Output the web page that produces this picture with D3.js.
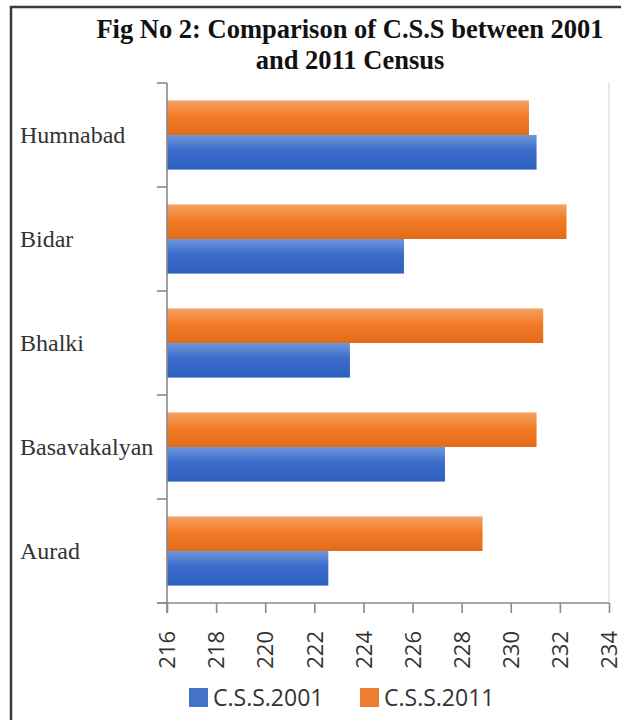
<!DOCTYPE html>
<html>
<head>
<meta charset="utf-8">
<script src="https://cdn.jsdelivr.net/npm/d3@7"></script>
<style>
  body { margin: 0; background: #fff; }
  svg { display: block; }
</style>
</head>
<body>
<svg id="chart"></svg>
<script>
// districts, top to bottom
const districts = ['Humnabad', 'Bidar', 'Bhalki', 'Basavakalyan', 'Aurad']
const series = ['C.S.S.2011', 'C.S.S.2001']
const css2001 = [231.05, 225.65, 223.45, 227.32, 222.57]
const css2011 = [230.74, 232.27, 231.32, 231.05, 228.85]
const xTicks = [216, 218, 220, 222, 224, 226, 228, 230, 232, 234]
const legendItems = ['C.S.S.2001', 'C.S.S.2011']

const width = 621, height = 720
const margin = { top: 83, right: 12, bottom: 117, left: 167 }
const plotW = width - margin.left - margin.right
const plotH = height - margin.top - margin.bottom

const svg = d3.select('#chart')
	.attr('width', width)
	.attr('height', height)

// outer frame of the figure (only top and left edges are inside the picture)
svg.append('rect')
	.attr('x', 11).attr('y', 7)
	.attr('width', 640).attr('height', 740)
	.attr('fill', 'none')
	.attr('stroke', '#3a3a3a')
	.attr('stroke-width', 2.5)

// gradients for the bars
const defs = svg.append('defs')
function addGradient(id, top, mid, bottom) {
	const g = defs.append('linearGradient')
		.attr('id', id)
		.attr('x1', 0).attr('y1', 0).attr('x2', 0).attr('y2', 1)
	g.append('stop').attr('offset', '0%').attr('stop-color', top)
	g.append('stop').attr('offset', '45%').attr('stop-color', mid)
	g.append('stop').attr('offset', '100%').attr('stop-color', bottom)
}
addGradient('gradBlue', '#6e98dc', '#3c6ccb', '#2c5fbf')
addGradient('gradOrange', '#f5a263', '#f07b27', '#e36b17')

const color = {
	'C.S.S.2001': 'url(#gradBlue)',
	'C.S.S.2011': 'url(#gradOrange)'
}
const legendColor = { 'C.S.S.2001': '#4472c4', 'C.S.S.2011': '#ed7d31' }

// title
const title = svg.append('text')
	.attr('text-anchor', 'middle')
	.style('font-family', '"Liberation Serif", "Times New Roman", serif')
	.style('font-weight', 'bold')
	.style('font-size', '26.5px')
	.attr('fill', '#111')
title.append('tspan').attr('x', 350).attr('y', 38).text('Fig No 2: Comparison of C.S.S between 2001')
title.append('tspan').attr('x', 350).attr('y', 69).text('and 2011 Census')

const g = svg.append('g')
	.attr('transform', `translate(${margin.left},${margin.top})`)

const x = d3.scaleLinear()
	.domain([216, 234])
	.range([0, plotW])

const y = d3.scaleBand()
	.domain(districts)
	.range([0, plotH])
	.paddingInner(0.335)
	.paddingOuter(0.1675)

const ySub = d3.scaleBand()
	.domain(series)
	.range([0, y.bandwidth()])

// light gridline at the right edge
g.append('line')
	.attr('x1', x(234)).attr('x2', x(234))
	.attr('y1', 0).attr('y2', plotH)
	.attr('stroke', '#e2e2e2')
	.attr('stroke-width', 1.5)

// bars
const rows = districts.map((d, i) => ({ name: d, values: { 'C.S.S.2001': css2001[i], 'C.S.S.2011': css2011[i] } }))

const groups = g.selectAll('.grp')
	.data(rows)
	.join('g')
	.attr('class', 'grp')
	.attr('transform', d => `translate(0,${y(d.name)})`)

groups.selectAll('rect')
	.data(d => series.map(s => ({ key: s, value: d.values[s] })))
	.join('rect')
	.attr('x', 0)
	.attr('y', d => ySub(d.key))
	.attr('width', d => x(d.value) - x(216))
	.attr('height', ySub.bandwidth())
	.attr('fill', d => color[d.key])

// y axis: line with ticks between categories
const yLine = g.append('g').attr('stroke', '#8a8a8a').attr('stroke-width', 1.6)
yLine.append('line')
	.attr('x1', 0).attr('x2', 0)
	.attr('y1', 0).attr('y2', plotH + 10)
const step = y.step()
d3.range(districts.length + 1).forEach(i => {
	yLine.append('line')
		.attr('x1', -10).attr('x2', 0)
		.attr('y1', i * step).attr('y2', i * step)
})

// category labels
g.selectAll('.cat')
	.data(districts)
	.join('text')
	.attr('class', 'cat')
	.attr('x', 20 - margin.left)
	.attr('y', d => y(d) + y.bandwidth() / 2)
	.attr('dy', '0.35em')
	.style('font-family', '"Liberation Serif", "Times New Roman", serif')
	.style('font-size', '24px')
	.attr('fill', '#333')
	.text(d => d)

// x axis
const xAxis = g.append('g')
	.attr('transform', `translate(0,${plotH})`)
	.call(d3.axisBottom(x).tickValues(xTicks).tickSize(10).tickSizeOuter(0).tickPadding(18))

xAxis.select('.domain')
	.attr('stroke', '#8a8a8a').attr('stroke-width', 1.6)
	.attr('d', `M-10,0H${plotW}`)
xAxis.selectAll('.tick line').attr('stroke', '#8a8a8a').attr('stroke-width', 1.6)
xAxis.selectAll('.tick text')
	.attr('transform', 'rotate(-90)')
	.attr('x', -28)
	.attr('y', 0)
	.attr('dy', '0.35em')
	.style('text-anchor', 'end')
	.style('font-family', '"Open Sans", "Liberation Sans", sans-serif')
	.style('font-size', '22px')
	.attr('fill', '#333')

// legend
const legend = svg.append('g')
	.attr('transform', 'translate(189,688)')
const legendX = [0, 171]
legendItems.forEach((s, i) => {
	const item = legend.append('g').attr('transform', `translate(${legendX[i]},0)`)
	item.append('rect')
		.attr('width', 19).attr('height', 19)
		.attr('fill', legendColor[s])
	item.append('text')
		.attr('x', 24).attr('y', 10)
		.attr('dy', '0.35em')
		.style('font-family', '"Open Sans", "Liberation Sans", sans-serif')
		.style('font-size', '23px')
		.attr('fill', '#333')
		.text(s)
})
</script>
</body>
</html>
